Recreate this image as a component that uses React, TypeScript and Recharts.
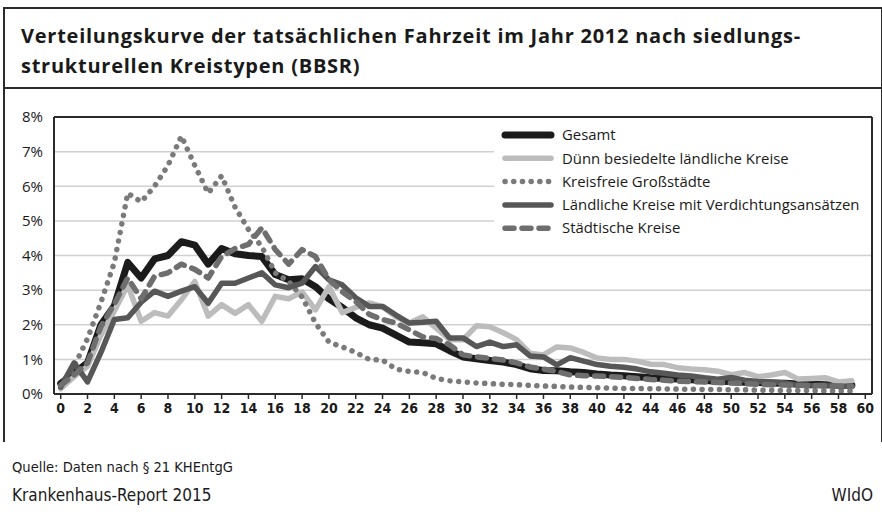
import { LineChart, Line, XAxis, YAxis, CartesianGrid, ReferenceLine } from 'recharts'

// Fahrzeit in Minuten (Kategorien 0..59)
const minutes = [
  0, 1, 2, 3, 4, 5, 6, 7, 8, 9, 10, 11, 12, 13, 14, 15, 16, 17, 18, 19,
  20, 21, 22, 23, 24, 25, 26, 27, 28, 29, 30, 31, 32, 33, 34, 35, 36, 37, 38, 39,
  40, 41, 42, 43, 44, 45, 46, 47, 48, 49, 50, 51, 52, 53, 54, 55, 56, 57, 58, 59,
]

const gesamt = [
  0.3, 0.6, 0.9, 2.0, 2.55, 3.8, 3.35, 3.9, 4.0, 4.4, 4.3, 3.75, 4.2, 4.05, 4.0, 3.97, 3.45, 3.3, 3.33, 3.1,
  2.75, 2.5, 2.2, 2.0, 1.9, 1.7, 1.5, 1.48, 1.45, 1.25, 1.07, 1.02, 0.97, 0.92, 0.85, 0.73, 0.68, 0.67, 0.64, 0.62,
  0.58, 0.55, 0.53, 0.5, 0.47, 0.45, 0.43, 0.41, 0.39, 0.37, 0.36, 0.34, 0.33, 0.32, 0.31, 0.29, 0.28, 0.27, 0.26, 0.25,
]

const duenn = [
  0.15, 0.5, 0.8, 1.7, 2.4, 3.15, 2.1, 2.35, 2.25, 2.72, 3.25, 2.25, 2.58, 2.33, 2.58, 2.1, 2.82, 2.75, 2.95, 2.43,
  3.1, 2.35, 2.5, 2.63, 2.52, 2.23, 2.05, 2.23, 1.9, 1.57, 1.57, 1.97, 1.94, 1.77, 1.57, 1.18, 1.13, 1.36, 1.33, 1.2,
  1.04, 1.0, 1.0, 0.95, 0.86, 0.85, 0.76, 0.72, 0.7, 0.66, 0.56, 0.62, 0.5, 0.55, 0.62, 0.43, 0.45, 0.47, 0.35, 0.38,
]

const grossstaedte = [
  0.25, 0.8, 1.6, 2.65, 3.8, 5.8, 5.55, 6.0, 6.6, 7.45, 6.6, 5.8, 6.3, 5.4, 4.75, 4.25, 3.5, 3.25, 2.8, 2.05,
  1.5, 1.36, 1.2, 1.0, 0.98, 0.72, 0.65, 0.62, 0.45, 0.38, 0.35, 0.32, 0.3, 0.28, 0.27, 0.25, 0.23, 0.22, 0.2, 0.19,
  0.18, 0.17, 0.16, 0.16, 0.15, 0.15, 0.14, 0.14, 0.13, 0.13, 0.12, 0.12, 0.11, 0.11, 0.1, 0.1, 0.1, 0.09, 0.09, 0.09,
]

const verdichtung = [
  0.2, 0.9, 0.35, 1.2, 2.15, 2.2, 2.65, 2.97, 2.82, 2.97, 3.1, 2.62, 3.2, 3.2, 3.35, 3.5, 3.15, 3.07, 3.2, 3.68,
  3.3, 3.15, 2.78, 2.53, 2.53, 2.28, 2.05, 2.07, 2.1, 1.62, 1.62, 1.37, 1.5, 1.37, 1.42, 1.1, 1.07, 0.84, 1.05, 0.95,
  0.85, 0.8, 0.77, 0.72, 0.64, 0.6, 0.55, 0.52, 0.47, 0.43, 0.48, 0.4, 0.36, 0.35, 0.32, 0.25, 0.24, 0.25, 0.22, 0.23,
]

const staedtisch = [
  0.25, 0.55, 0.9, 1.95, 2.6, 3.35, 2.75, 3.4, 3.5, 3.75, 3.6, 3.35, 3.97, 4.2, 4.32, 4.8, 4.17, 3.75, 4.17, 3.97,
  3.3, 2.95, 2.67, 2.3, 2.15, 2.05, 1.85, 1.65, 1.6, 1.42, 1.13, 1.07, 1.03, 0.98, 0.9, 0.78, 0.72, 0.65, 0.55, 0.53,
  0.52, 0.5, 0.48, 0.45, 0.42, 0.4, 0.37, 0.36, 0.35, 0.33, 0.32, 0.3, 0.28, 0.27, 0.26, 0.25, 0.25, 0.24, 0.23, 0.22,
]

const xTicks = [0, 2, 4, 6, 8, 10, 12, 14, 16, 18, 20, 22, 24, 26, 28, 30, 32, 34, 36, 38, 40, 42, 44, 46, 48, 50, 52, 54, 56, 58, 60]
const yTicks = [0, 1, 2, 3, 4, 5, 6, 7, 8]

const series = [
  { key: 'gesamt', name: 'Gesamt', color: '#1b1b1b', width: 7, dash: undefined },
  { key: 'duenn', name: 'Dünn besiedelte ländliche Kreise', color: '#bcbcbc', width: 5.5, dash: undefined },
  { key: 'grossstaedte', name: 'Kreisfreie Großstädte', color: '#7a7a7a', width: 5.5, dash: '0.1 8.6' },
  { key: 'verdichtung', name: 'Ländliche Kreise mit Verdichtungsansätzen', color: '#575757', width: 5.5, dash: undefined },
  { key: 'staedtisch', name: 'Städtische Kreise', color: '#6e6e6e', width: 5.5, dash: '9 8' },
]

const data = minutes.map((t, i) => ({
  t,
  gesamt: gesamt[i],
  duenn: duenn[i],
  grossstaedte: grossstaedte[i],
  verdichtung: verdichtung[i],
  staedtisch: staedtisch[i],
}))

const frame = '#2b2b2b'
const sans = '"Open Sans", "Noto Sans", sans-serif'
const narrow = '"Liberation Sans Narrow", "DejaVu Sans Condensed", Roboto, sans-serif'

export default function App() {
  return (
    <div style={{ position: 'absolute', left: 0, top: 0, width: 882, height: 514, background: '#fff', fontFamily: sans, color: '#1a1a1a' }}>
      {/* Rahmen */}
      <div style={{ position: 'absolute', left: 3, top: 7, width: 876, height: 433, borderLeft: `2px solid ${frame}`, borderRight: `2px solid ${frame}`, borderTop: `2px solid ${frame}` }} />
      <div style={{ position: 'absolute', left: 3, top: 87, width: 878, height: 2, background: frame }} />

      <div style={{ position: 'absolute', left: 21, top: 21, fontSize: 20, fontWeight: 700, lineHeight: '30px', letterSpacing: 0.75, whiteSpace: 'nowrap' }}>
        Verteilungskurve der tatsächlichen Fahrzeit im Jahr 2012 nach siedlungs-
        <br />
        strukturellen Kreistypen (BBSR)
      </div>

      <div style={{ position: 'absolute', left: 0, top: 0 }}>
        <LineChart width={882} height={514} data={data} margin={{ top: 117, right: 10, bottom: 90, left: 0 }}>
          <CartesianGrid horizontal vertical={false} stroke="#d0d0d0" strokeWidth={1.5} />
          <XAxis
            dataKey="t"
            type="number"
            domain={[-0.5, 60.5]}
            ticks={xTicks}
            interval={0}
            height={30}
            tickSize={5}
            tickMargin={4}
            axisLine={{ stroke: frame, strokeWidth: 2 }}
            tickLine={{ stroke: frame, strokeWidth: 1.5 }}
            tick={{ fill: '#1a1a1a', fontSize: 14, fontWeight: 700, fontFamily: narrow }}
          />
          <YAxis
            type="number"
            domain={[0, 8]}
            ticks={yTicks}
            width={54}
            tickSize={6}
            tickMargin={5}
            tickLine={false}
            axisLine={{ stroke: frame, strokeWidth: 2 }}
            tickFormatter={(v: number) => `${v}%`}
            tick={{ fill: '#1a1a1a', fontSize: 15, fontFamily: sans }}
          />
          <ReferenceLine y={8} stroke={frame} strokeWidth={2} />
          <ReferenceLine x={60.5} stroke={frame} strokeWidth={2} />
          {series.map((s) => (
            <Line
              key={s.key}
              dataKey={s.key}
              name={s.name}
              type="linear"
              stroke={s.color}
              strokeWidth={s.width}
              strokeDasharray={s.dash}
              strokeLinecap="round"
              strokeLinejoin="round"
              dot={false}
              isAnimationActive={false}
            />
          ))}
        </LineChart>
      </div>

      {/* Legende */}
      <svg style={{ position: 'absolute', left: 494, top: 119 }} width={377} height={124}>
        <rect x={0} y={0} width={377} height={124} fill="#fff" />
        {series.map((s, i) => (
          <g key={s.key}>
            <line
              x1={11}
              x2={57}
              y1={16 + i * 23.3}
              y2={16 + i * 23.3}
              stroke={s.color}
              strokeWidth={s.width}
              strokeDasharray={s.dash}
              strokeLinecap="round"
            />
            <text x={68} y={16 + i * 23.3} dy="0.35em" fontSize={14.9} fontFamily={sans} fill="#1a1a1a">
              {s.name}
            </text>
          </g>
        ))}
      </svg>

      <div style={{ position: 'absolute', left: 12, top: 458, fontSize: 14.6, fontFamily: narrow, whiteSpace: 'nowrap' }}>
        Quelle: Daten nach § 21 KHEntgG
      </div>
      <div style={{ position: 'absolute', left: 12, top: 485, fontSize: 17, fontFamily: narrow, whiteSpace: 'nowrap' }}>
        Krankenhaus-Report 2015
      </div>
      <div style={{ position: 'absolute', right: 9, top: 485, fontSize: 17, fontFamily: narrow, whiteSpace: 'nowrap' }}>
        WIdO
      </div>
    </div>
  )
}
